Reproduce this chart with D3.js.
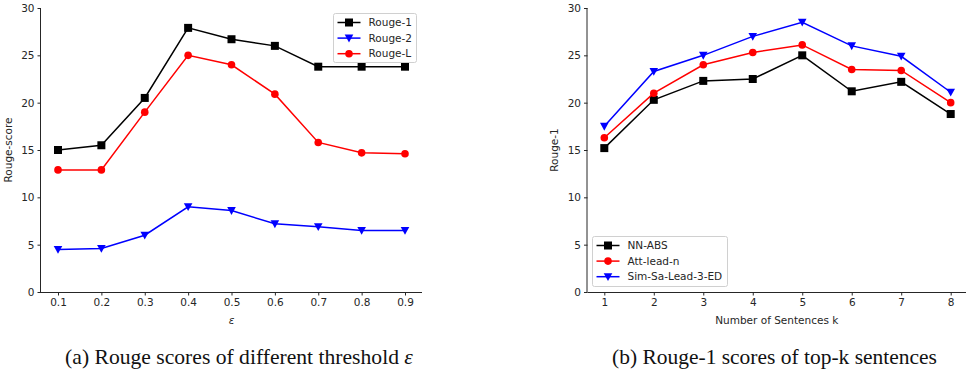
<!DOCTYPE html>
<html><head><meta charset="utf-8">
<script src="https://cdn.jsdelivr.net/npm/d3@7"></script>
<style>body{margin:0;background:#fff}svg{display:block}</style>
</head><body>
<svg id="c" width="967" height="375"></svg>
<script>
const epsLabels = ["0.1","0.2","0.3","0.4","0.5","0.6","0.7","0.8","0.9"];
const rouge1 = [15.0,15.5,20.5,27.9,26.7,26.0,23.8,23.8,23.8];
const rouge2 = [4.5,4.6,6.0,9.0,8.6,7.2,6.9,6.5,6.5];
const rougeL = [12.9,12.9,19.0,25.0,24.0,20.9,15.8,14.7,14.6];
const kLabels = ["1","2","3","4","5","6","7","8"];
const nnAbs = [15.2,20.3,22.3,22.5,25.0,21.2,22.2,18.8];
const attLead = [16.3,21.0,24.0,25.3,26.1,23.5,23.4,20.0];
const simSa = [17.5,23.3,25.0,27.0,28.5,26.0,24.9,21.1];
const yTicks = [0,5,10,15,20,25,30];

const svg = d3.select("#c");
const font = "DejaVu Sans";

function marker(g, type, x, y, color){
  if(type==="square"){
    g.append("rect").attr("x",x-4).attr("y",y-4).attr("width",8).attr("height",8).attr("fill",color);
  } else if(type==="circle"){
    g.append("circle").attr("cx",x).attr("cy",y).attr("r",3.8).attr("fill",color);
  } else {
    g.append("path").attr("d",`M${x-4.3},${y-3.5}L${x+4.3},${y-3.5}L${x},${y+4.3}Z`).attr("fill",color);
  }
}

function panel(opt){
  const g = svg.append("g");
  const x = d3.scalePoint().domain(opt.cats).range([opt.x0, opt.x1]);
  const y = d3.scaleLinear().domain([0,30]).range([292,8]);
  const ya = g.append("g").attr("transform",`translate(${opt.ax},0)`)
    .call(d3.axisLeft(y).tickValues(yTicks).tickSize(3.5).tickPadding(3));
  const xa = g.append("g").attr("transform",`translate(0,292)`)
    .call(d3.axisBottom(x).tickSize(3.5).tickPadding(3));
  xa.select(".domain").attr("d",`M${opt.ax},0.5H${opt.axEnd}`);
  ya.select(".domain").attr("d",`M-0.5,292V8`);
  [xa,ya].forEach(a=>{
    a.selectAll("text").attr("font-family",font).attr("font-size",10.5).attr("fill","#262626");
    a.selectAll("line,path").attr("stroke","#262626").attr("stroke-width",1);
  });
  opt.series.forEach(s=>{
    const line = d3.line().x((d,i)=>x(opt.cats[i])).y(d=>y(d));
    g.append("path").attr("d",line(s.values)).attr("fill","none").attr("stroke",s.color).attr("stroke-width",1.5);
    s.values.forEach((v,i)=>marker(g,s.marker,x(opt.cats[i]),y(v),s.color));
  });
  g.append("text").attr("x",(opt.ax+opt.axEnd)/2).attr("y",324).attr("text-anchor","middle")
    .attr("font-family",font).attr("font-size",10.5).attr("fill","#262626")
    .attr("font-style",opt.xItalic?"italic":"normal").text(opt.xLabel);
  g.append("text").attr("transform",`translate(${opt.ylx},150) rotate(-90)`).attr("text-anchor","middle")
    .attr("font-family",font).attr("font-size",10.5).attr("fill","#262626").text(opt.yLabel);
  const L = opt.legend;
  g.append("rect").attr("x",L.x).attr("y",L.y).attr("width",L.w).attr("height",L.h).attr("rx",2)
    .attr("fill","white").attr("fill-opacity",0.85).attr("stroke","#d0d0d0").attr("stroke-width",1);
  opt.series.forEach((s,i)=>{
    const yy = L.y + 9 + i*15.6;
    g.append("line").attr("x1",L.x+4).attr("x2",L.x+27).attr("y1",yy).attr("y2",yy).attr("stroke",s.color).attr("stroke-width",1.5);
    marker(g,s.marker,L.x+15.5,yy,s.color);
    g.append("text").attr("x",L.x+35).attr("y",yy).attr("dy","0.35em").attr("font-family",font)
      .attr("font-size",10.5).attr("fill","#262626").text(s.name);
  });
  // caption, sized to span the same width as the reference
  const cap = g.append("text").attr("x",opt.capX).attr("y",364).attr("text-anchor","middle")
    .attr("font-family","Liberation Serif").attr("font-size",20).attr("fill","#111")
    .html(opt.caption);
  const w = cap.node().getComputedTextLength();
  cap.attr("font-size", 20*opt.capW/w);
}

panel({
  cats: epsLabels, x0:58, x1:405, ax:41, axEnd:422,
  series:[
    {name:"Rouge-1", values:rouge1, color:"#000000", marker:"square"},
    {name:"Rouge-2", values:rouge2, color:"#0000ff", marker:"triangle"},
    {name:"Rouge-L", values:rougeL, color:"#ff0000", marker:"circle"}
  ],
  xLabel:"ε", xItalic:true, yLabel:"Rouge-score", ylx:12,
  legend:{x:333.5,y:13.5,w:83,h:49},
  capX:239, capW:348, caption:'(a)  Rouge scores of different threshold <tspan font-style="italic">ε</tspan>'
});
panel({
  cats: kLabels, x0:604.3, x1:950.7, ax:587.5, axEnd:966,
  series:[
    {name:"NN-ABS", values:nnAbs, color:"#000000", marker:"square"},
    {name:"Att-lead-n", values:attLead, color:"#ff0000", marker:"circle"},
    {name:"Sim-Sa-Lead-3-ED", values:simSa, color:"#0000ff", marker:"triangle"}
  ],
  xLabel:"Number of Sentences k", xItalic:false, yLabel:"Rouge-1", ylx:558,
  legend:{x:592.5,y:236.5,w:135,h:50},
  capX:774.5, capW:325, caption:'(b)  Rouge-1 scores of top-k sentences'
});
</script>
</body></html>
